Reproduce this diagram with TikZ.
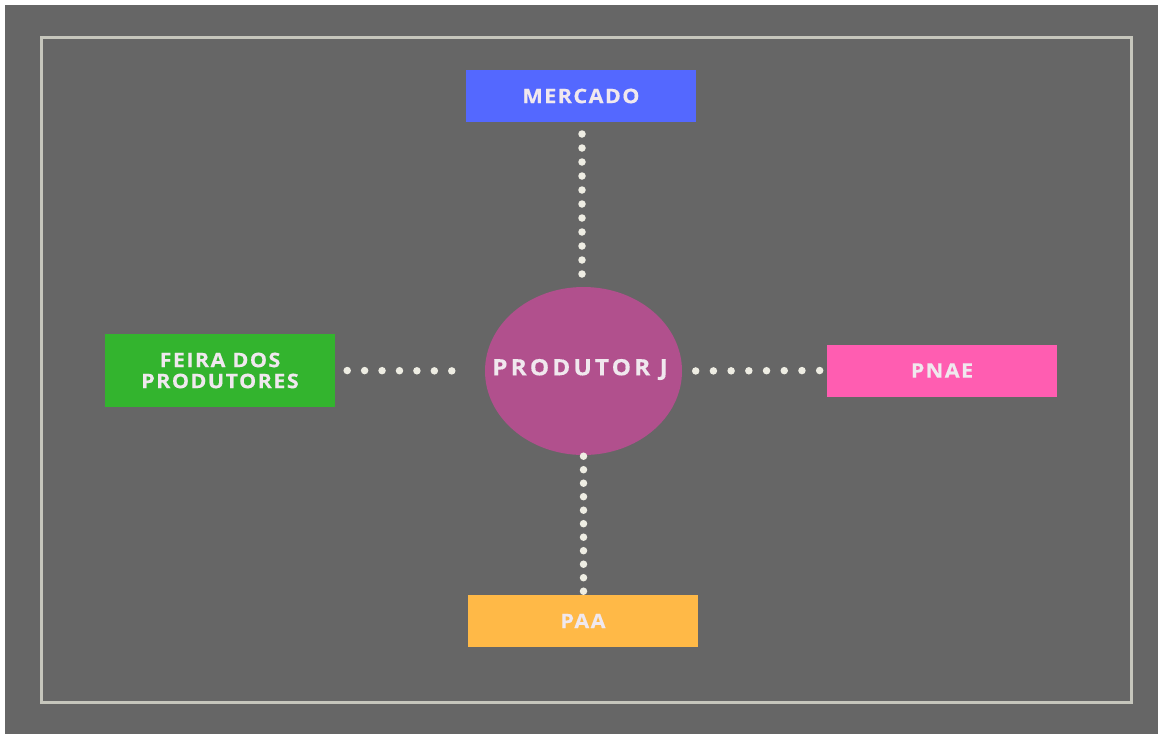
\documentclass[tikz,border=0pt]{standalone}
\usepackage{fontspec}
\usetikzlibrary{shapes.geometric}
\newfontfamily\lblfont[LetterSpace=7,FakeStretch=1.08,FakeBold=0.4]{Open Sans}
\newfontfamily\bigfont[LetterSpace=14,FakeStretch=1.08,FakeBold=0.4]{Open Sans}
\definecolor{bggray}{HTML}{666666}
\definecolor{framec}{HTML}{C6C6BC}
\definecolor{blueb}{HTML}{5468FF}
\definecolor{greenb}{HTML}{33B42E}
\definecolor{pinkb}{HTML}{FF5DB1}
\definecolor{orangeb}{HTML}{FFB947}
\definecolor{purpc}{HTML}{B1508D}
\definecolor{txtc}{HTML}{F0E8EE}
\definecolor{dotc}{HTML}{EEEDE3}
\begin{document}
\begin{tikzpicture}[x=1pt,y=-1pt,
  box/.style={rectangle, minimum width=230pt, minimum height=52pt, inner sep=0pt,
    text=txtc, font=\lblfont\bfseries\fontsize{20}{21}\selectfont, align=center},
  dots/.style={draw=dotc, line width=7.5pt, line cap=round}]
\useasboundingbox (0,0) rectangle (1158,734);
\fill[white] (0,0) rectangle (1158,734);
\fill[bggray] (5,5) rectangle (1158,734);
\draw[framec, line width=3pt] (41,37) rectangle (1131,702);
\node[box, fill=blueb] (mercado) at (581,96) {MERCADO};
\node[box, fill=greenb, minimum height=73pt] (feira) at (220,370.5) {FEIRA DOS\\PRODUTORES};
\node[box, fill=pinkb] (pnae) at (942,370.5) {PNAE};
\node[box, fill=orangeb] (paa) at (583,621) {PAA};
\node[ellipse, fill=purpc, minimum width=197pt, minimum height=168pt, inner sep=0pt] (prod) at (583.5,371) {};
\node[text=txtc, font=\bigfont\bfseries\fontsize{22.5}{24}\selectfont, inner sep=0pt] (prodtxt) at (580,369.5) {PRODUTOR J};
\draw[dots, dash pattern=on 0pt off 14pt, shorten <=12pt, shorten >=10pt]
  (582,122) coordinate (mb) -- (582,287) coordinate (pt);
\draw[dots, dash pattern=on 0pt off 13.5pt, shorten <=1pt, shorten >=3pt]
  (prod.south) -- (prod.south |- paa.north);
\draw[dots, dash pattern=on 0pt off 17.43pt, shorten <=12pt, shorten >=16pt]
  (feira.east) -- (prod.west);
\draw[dots, dash pattern=on 0pt off 17.71pt, shorten <=13.5pt, shorten >=7pt]
  (prod.east) -- (pnae.west);
\end{tikzpicture}
\end{document}
